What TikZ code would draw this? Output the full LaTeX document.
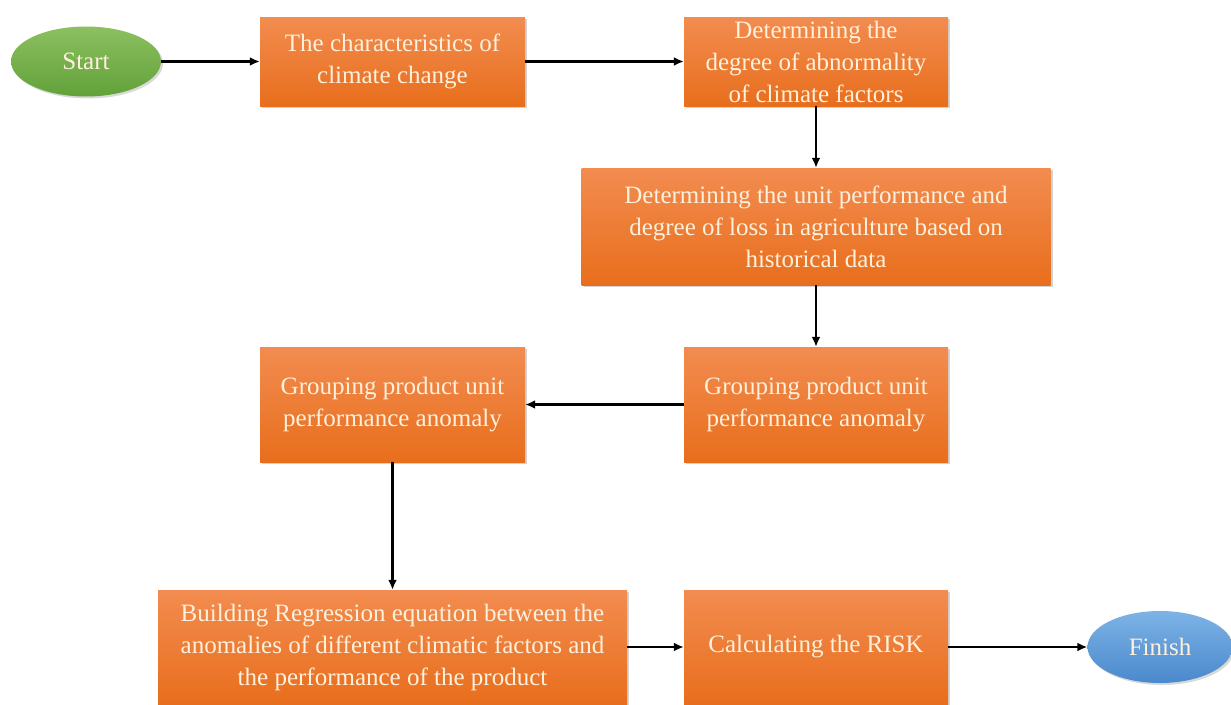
\documentclass[tikz,border=0pt]{standalone}
\usepackage{fontspec}
\setmainfont{Liberation Serif}
\usetikzlibrary{arrows.meta,shadows,shapes.geometric}

\definecolor{orangetop}{HTML}{F28C50}
\definecolor{orangebot}{HTML}{E86E1C}
\definecolor{greentop}{HTML}{8CC060}
\definecolor{greenbot}{HTML}{62A13A}
\definecolor{bluetop}{HTML}{7DB3E6}
\definecolor{bluebot}{HTML}{4A89CC}
\definecolor{boxtext}{HTML}{FDF0DC}

\tikzset{
  stepbox/.style={rectangle, top color=orangetop, bottom color=orangebot,
    draw=none, text=boxtext, align=center, inner sep=0pt,
    font=\fontsize{25}{32}\selectfont,
    drop shadow={shadow xshift=2pt, shadow yshift=-2pt, opacity=0.35}},
  endpoint/.style={ellipse, draw=none, text=boxtext, inner sep=0pt,
    font=\fontsize{25}{32}\selectfont,
    drop shadow={shadow xshift=2pt, shadow yshift=-2pt, opacity=0.3}},
  flow/.style={-{Latex[length=10pt,width=9pt]}, line width=2.2pt, black}
}

\begin{document}
\begin{tikzpicture}[x=1pt, y=-1pt]

                    \useasboundingbox (0,0) rectangle (1231,704);

                    % top row
                    \node[endpoint, top color=greentop, bottom color=greenbot,
                          minimum width=150pt, minimum height=70pt] (start) at (86,61.5) {Start};
                    \node[stepbox, minimum width=265pt, minimum height=89pt] (charac) at (392.5,61.5)
                        {The characteristics of\\ climate change};
                    \node[stepbox, minimum width=264pt, minimum height=89pt] (abnorm) at (816,61.5)
                        {Determining the\\ degree of abnormality\\ of climate factors};

                    % middle
                    \node[stepbox, minimum width=469pt, minimum height=117pt] (unitperf) at (816,226.5)
                        {Determining the unit performance and\\ degree of loss in agriculture based on\\ historical data};
                    \node[stepbox, minimum width=264pt, minimum height=115pt] (group1) at (816,404.5)
                        {Grouping product unit\\ performance anomaly};
                    \node[stepbox, minimum width=265pt, minimum height=115pt] (group2) at (392.5,404.5)
                        {Grouping product unit\\ performance anomaly};

                    % bottom row
                    \node[stepbox, minimum width=469pt, minimum height=114pt] (regress) at (392.5,647)
                        {Building Regression equation between the\\ anomalies of different climatic factors and\\ the performance of the product};
                    \node[stepbox, minimum width=264pt, minimum height=114pt] (risk) at (816,647)
                        {Calculating the RISK};
                    \node[endpoint, top color=bluetop, bottom color=bluebot,
                          minimum width=145pt, minimum height=72pt] (finish) at (1160,647) {Finish};

                    % connectors
                    \foreach \a/\b in {start/charac, charac/abnorm, abnorm/unitperf, unitperf/group1,
                                       group1/group2, group2/regress, regress/risk, risk/finish}
                    \draw[flow] (\a) -- (\b);

\end{tikzpicture}
\end{document}
